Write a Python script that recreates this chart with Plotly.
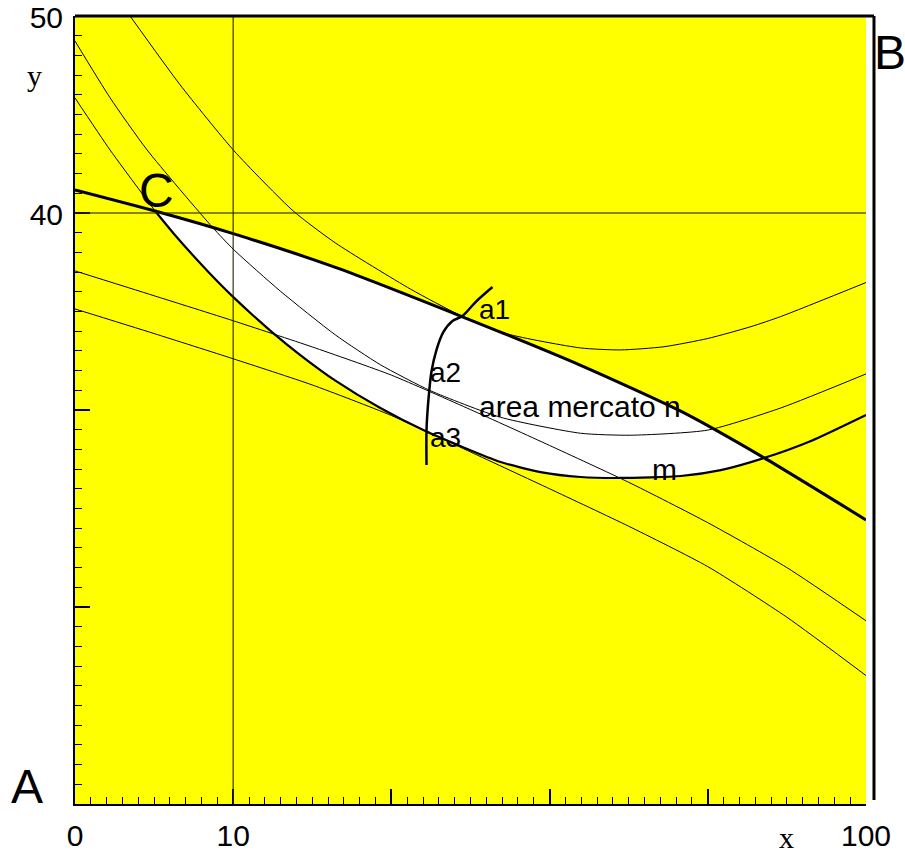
import plotly.graph_objects as go

# ---- data ----
# thick upper boundary line
u_x = [0, 5.063, 10.0, 16.46, 24.37, 31.96, 38.29, 43.54, 50]
u_y = [41.17, 40.10, 38.95, 37.24, 34.77, 32.27, 29.94, 27.58, 24.42]

# thick lower boundary curve (C -> m -> right edge)
l_x = [5.063, 6.329, 8.418, 10.06, 12.47, 14.24, 16.46, 19.30, 22.15, 26.90, 29.43,
       31.96, 34.49, 38.29, 40.82, 43.54, 46.52, 50.0]
l_y = [40.10, 38.87, 37.02, 35.69, 33.94, 32.79, 31.49, 30.10, 28.93, 27.36, 26.85,
       26.60, 26.55, 26.65, 26.95, 27.56, 28.43, 29.75]

# thin curve ending at C
d_x = [0, 2.215, 5.063]
d_y = [45.84, 43.20, 40.10]

# thin curve touching the upper line at a1
a_x = [3.48, 6.65, 10.06, 13.80, 16.46, 21.20, 24.37, 27.34, 31.96, 34.49, 37.22,
       40.0, 42.72, 44.6, 50.0]
a_y = [50.0, 46.50, 43.15, 40.10, 38.48, 36.14, 34.80, 33.86, 33.15, 33.05, 33.21,
       33.63, 34.23, 34.74, 36.47]

# thin middle curve
b_x = [0, 2.215, 4.557, 8.671, 10.06, 12.97, 16.46, 19.30, 22.47, 26.90, 31.96,
       35.13, 40.0, 44.6, 50]
b_y = [48.73, 45.85, 43.20, 39.29, 38.12, 36.04, 33.81, 32.30, 30.98, 29.63, 28.82,
       28.72, 28.98, 30.10, 31.83]

# thin descending lines
s_x = [0, 5, 10, 15, 20, 25, 30, 35, 40, 45, 50]
s1_y = [37.06, 35.80, 34.53, 33.20, 31.77, 30.02, 28.20, 26.33, 24.28, 22.00, 19.30]
s2_y = [35.13, 33.88, 32.60, 31.27, 29.72, 27.87, 26.00, 24.10, 22.05, 19.48, 16.52]

# the a1-a2-a3 arc
arc_x = [26.39, 25.32, 24.49, 23.86, 23.29, 22.85, 22.53, 22.34, 22.22, 22.22]
arc_y = [36.24, 35.48, 34.77, 34.52, 33.96, 33.05, 31.93, 30.51, 28.98, 27.21]

x_tickvals = [0, 10, 20, 30, 40, 50]
x_ticktext = ["0", "10", "", "", "", "100"]
y_tickvals = [10, 20, 30, 40, 50]
y_ticktext = ["", "", "", "40", "50"]

SANS = "Liberation Sans, Arial, sans-serif"
SERIF = "Liberation Serif, Times New Roman, serif"

fig = go.Figure()

# white region between the two thick curves (C .. crossing at x=43.54)
fill_x = u_x[1:8] + l_x[0:16][::-1]
fill_y = u_y[1:8] + l_y[0:16][::-1]
fig.add_trace(go.Scatter(x=fill_x, y=fill_y, fill="toself", fillcolor="white",
                         mode="lines", line=dict(width=0, shape="spline", smoothing=0.5),
                         hoverinfo="skip"))

thin = dict(color="black", width=1, shape="spline", smoothing=0.6)
for xs, ys in [(d_x, d_y), (a_x, a_y), (b_x, b_y), (s_x, s1_y), (s_x, s2_y)]:
    fig.add_trace(go.Scatter(x=xs, y=ys, mode="lines", line=thin, hoverinfo="skip"))

fig.add_trace(go.Scatter(x=l_x, y=l_y, mode="lines",
                         line=dict(color="black", width=2.2, shape="spline", smoothing=0.6)))
fig.add_trace(go.Scatter(x=u_x, y=u_y, mode="lines",
                         line=dict(color="black", width=3, shape="spline", smoothing=0.6)))
fig.add_trace(go.Scatter(x=arc_x, y=arc_y, mode="lines",
                         line=dict(color="black", width=2.5, shape="spline", smoothing=0.8)))

shapes = [
    dict(type="line", xref="x", yref="y", x0=10, x1=10, y0=10, y1=50,
         line=dict(color="rgba(40,40,0,0.75)", width=1.5), layer="above"),
    dict(type="line", xref="x", yref="y", x0=0, x1=50, y0=40, y1=40,
         line=dict(color="rgba(40,40,0,0.75)", width=1.5), layer="above"),
    dict(type="line", xref="paper", yref="paper", x0=0, x1=1.0101, y0=1, y1=1,
         line=dict(color="black", width=3), layer="above"),
    dict(type="line", xref="paper", yref="paper", x0=1.0101, x1=1.0101, y0=0.005, y1=1,
         line=dict(color="black", width=3), layer="above"),
]


def label(text, x, y, ref, size, family=SANS, xanchor="center"):
    return dict(text=text, x=x, y=y, xref="paper" if ref == "paper" else "x",
                yref="paper" if ref == "paper" else "y", xanchor=xanchor,
                yanchor="middle", showarrow=False,
                font=dict(family=family, size=size, color="black"))


annotations = [
    label("C", 5.13, 41.12, "data", 48),
    label("B", 1.030, 0.954, "paper", 48),
    label("A", -0.0607, 0.0216, "paper", 48),
    label("y", -0.0506, 0.925, "paper", 30, SERIF),
    label("x", 0.900, -0.043, "paper", 30, SERIF),
    label("a1", 25.38, 35.08, "data", 28, xanchor="left"),
    label("a2", 22.34, 31.9, "data", 28, xanchor="left"),
    label("a3", 22.34, 28.58, "data", 28, xanchor="left"),
    label("area mercato n", 25.38, 30.17, "data", 30, xanchor="left"),
    label("m", 37.28, 27.0, "data", 30),
]

fig.update_layout(
    width=905, height=853,
    margin=dict(l=75, r=39, t=16, b=49, autoexpand=False),
    paper_bgcolor="white", plot_bgcolor="#ffff00",
    showlegend=False,
    shapes=shapes, annotations=annotations,
    xaxis=dict(range=[0, 50], showgrid=False, zeroline=False, automargin=False,
               showline=True, linecolor="black", linewidth=2,
               ticks="inside", ticklen=15, tickwidth=1.5, tickcolor="black",
               tickmode="array", tickvals=x_tickvals, ticktext=x_ticktext,
               ticklabelstandoff=4, ticklabeloverflow="allow",
               tickfont=dict(family=SANS, size=30, color="black"),
               minor=dict(ticks="inside", ticklen=7, tickwidth=1.2, tickcolor="black",
                          tick0=0, dtick=1, showgrid=False)),
    yaxis=dict(range=[10, 50], showgrid=False, zeroline=False, automargin=False,
               showline=True, linecolor="black", linewidth=2,
               ticks="inside", ticklen=15, tickwidth=1.5, tickcolor="black",
               tickmode="array", tickvals=y_tickvals, ticktext=y_ticktext,
               ticklabelstandoff=4, ticklabelshift=1, ticklabeloverflow="allow",
               tickfont=dict(family=SANS, size=30, color="black"),
               minor=dict(ticks="inside", ticklen=7, tickwidth=1.2, tickcolor="black",
                          tick0=0, dtick=1, showgrid=False)),
)

# remove the default page margin so the 905x853 figure fills the window exactly
fig.write_html(
    "out.html",
    config={"displayModeBar": False},
    post_script="document.body.style.margin='0';document.body.style.overflow='hidden';"
                "document.documentElement.style.overflow='hidden';",
)
